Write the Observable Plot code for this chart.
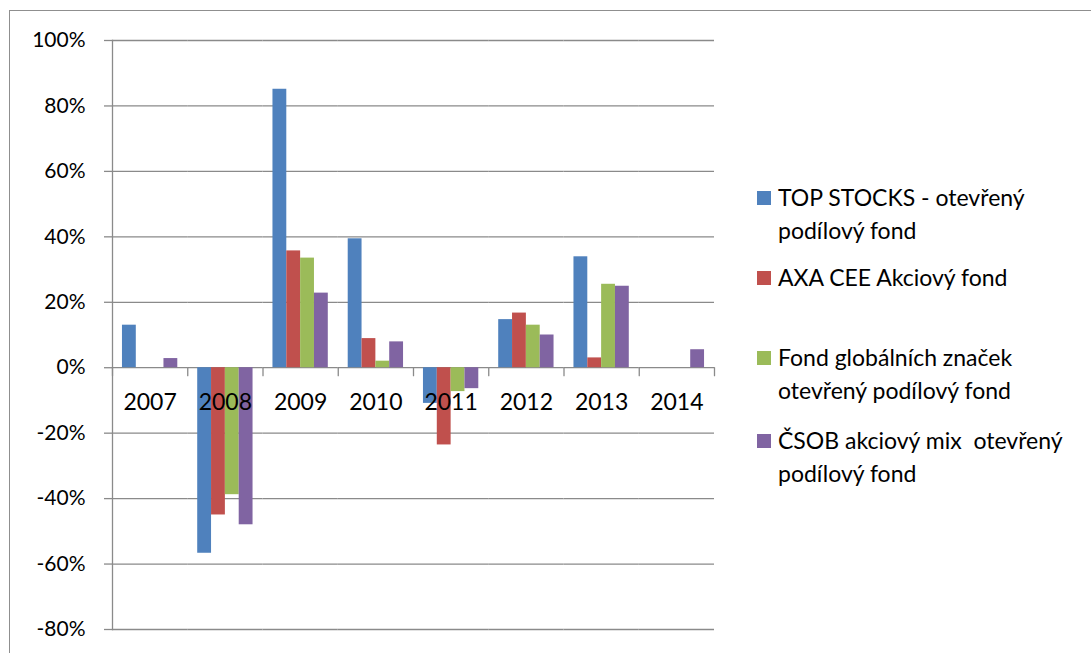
<!DOCTYPE html>
<html><head><meta charset="utf-8">
<script src="https://cdn.jsdelivr.net/npm/d3@7"></script>
<script src="https://cdn.jsdelivr.net/npm/@observablehq/plot@0.6"></script>
<style>
html,body{margin:0;padding:0;background:#fff;overflow:hidden;}
#wrap{position:relative;width:1091px;height:653px;overflow:hidden;font-family:Lato,sans-serif;}
#border{position:absolute;left:9px;top:10px;width:1200px;height:1000px;border:1px solid #8f8f8f;}
#chart{position:absolute;left:0;top:0;}
.leg{position:absolute;left:757px;font-size:23px;line-height:33px;color:#000;}
.sw{position:absolute;left:0;top:10px;width:14px;height:14px;}
.lt{position:absolute;left:21px;top:0;white-space:pre;}
</style></head>
<body>
<div id="wrap"><div id="border"></div><div id="chart"></div></div>
<script>
const years = ["2007","2008","2009","2010","2011","2012","2013","2014"];
const seriesNames = [
  "TOP STOCKS - otevřený podílový fond",
  "AXA CEE Akciový fond",
  "Fond globálních značek otevřený podílový fond",
  "ČSOB akciový mix  otevřený podílový fond"
];
const legendLines = [
  ["TOP STOCKS - otevřený", "podílový fond"],
  ["AXA CEE Akciový fond"],
  ["Fond globálních značek", "otevřený podílový fond"],
  ["ČSOB akciový mix  otevřený", "podílový fond"]
];
const topStocks = [13.0, -56.7, 85.1, 39.4, -10.9, 14.7, 33.9, null];
const axaCee    = [null, -45.0, 35.7, 8.9, -23.6, 16.7, 3.0, null];
const fondGlob  = [null, -38.8, 33.5, 2.0, -7.3, 13.0, 25.5, null];
const csobMix   = [2.8, -48.0, 22.8, 7.9, -6.4, 10.0, 24.9, 5.5];
const yTicks = [-80, -60, -40, -20, 0, 20, 40, 60, 80, 100];
const colors = ["#4F81BD", "#C0504D", "#9BBB59", "#8064A2"];

const seriesValues = [topStocks, axaCee, fondGlob, csobMix];
const data = [];
seriesNames.forEach((s, si) => {
  years.forEach((yr, yi) => {
    const v = seriesValues[si][yi];
    if (v !== null) data.push({year: yr, series: s, value: v});
  });
});

const gray = "#8a8a8a";
const tickShape = {draw(context, l) { context.moveTo(0, 0); context.lineTo(0, -l); }};

const chart = Plot.plot({
  width: 1091,
  height: 653,
  marginLeft: 112,
  marginRight: 377,
  marginTop: 40,
  marginBottom: 24,
  style: {fontFamily: "Lato, sans-serif", background: "transparent", overflow: "visible"},
  fx: {domain: years, padding: 0, round: false, axis: null},
  x: {domain: seriesNames, paddingInner: 0, paddingOuter: 0.72, round: false, axis: null},
  y: {domain: [-80, 100]},
  color: {domain: seriesNames, range: colors},
  marks: [
    Plot.gridY({ticks: yTicks, stroke: gray, strokeOpacity: 1, strokeWidth: 1.3}),
    Plot.barY(data, {fx: "year", x: "series", y: "value", fill: "series"}),
    Plot.axisY({ticks: yTicks, tickSize: 8, tickPadding: 19, tickFormat: d => d + "%", fontSize: 21, stroke: gray, strokeWidth: 1.3, label: null}),
    Plot.frame({anchor: "left", facetAnchor: "left", stroke: gray, strokeWidth: 1.3}),
    Plot.vector([0], {y: d => d, frameAnchor: "left", length: 8, rotate: 180, anchor: "start", shape: tickShape, stroke: gray, strokeWidth: 1.3}),
    Plot.vector([0], {y: d => d, frameAnchor: "right", facetAnchor: "right", length: 8, rotate: 180, anchor: "start", shape: tickShape, stroke: gray, strokeWidth: 1.3}),
    Plot.text(years, {fx: d => d, y: () => 0, text: d => d, dy: 35, fontSize: 23, fill: "#000"})
  ]
});
document.getElementById("chart").appendChild(chart);

const legendTops = [180.5, 260.5, 340.5, 423.5];
const wrap = document.getElementById("wrap");
legendLines.forEach((lines, i) => {
  const item = document.createElement("div");
  item.className = "leg";
  item.style.top = legendTops[i] + "px";
  const sw = document.createElement("div");
  sw.className = "sw";
  sw.style.background = colors[i];
  const lt = document.createElement("div");
  lt.className = "lt";
  lt.textContent = lines.join("\n");
  item.appendChild(sw);
  item.appendChild(lt);
  wrap.appendChild(item);
});
</script>
</body></html>
